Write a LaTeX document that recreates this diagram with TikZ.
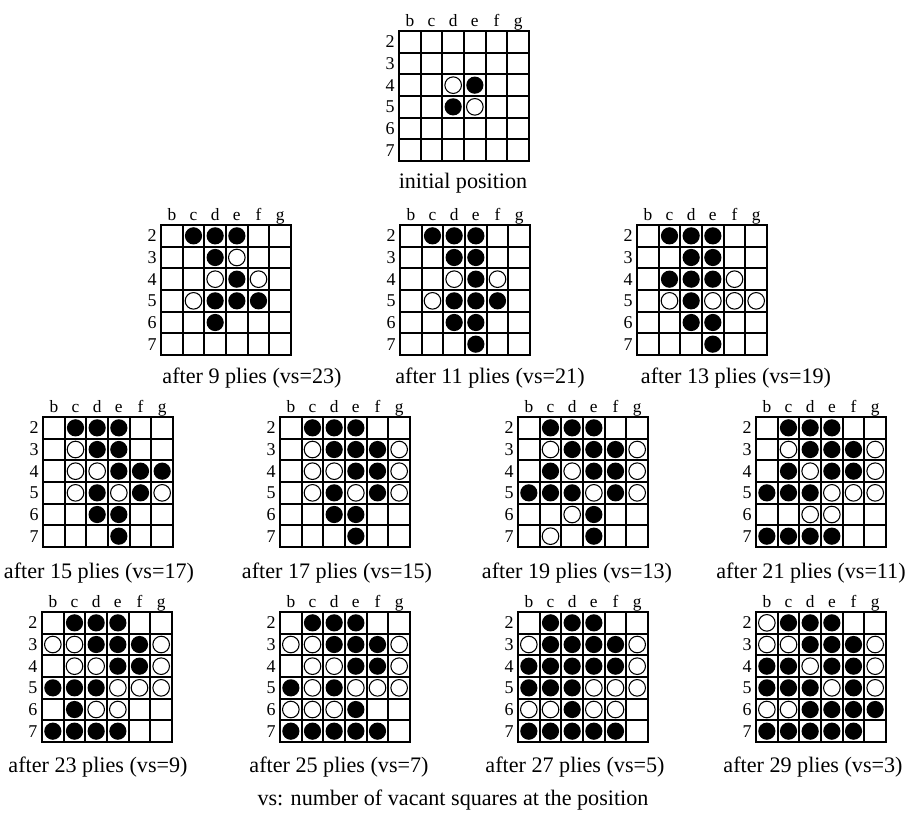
\documentclass[tikz,border=0pt]{standalone}
\usepackage{fontspec}
\setmainfont{Liberation Serif}
\usetikzlibrary{positioning}
\tikzset{
  gridline/.style={line width=1.6pt, line cap=rect},
  blackstone/.style={fill=black},
  whitestone/.style={draw=black, line width=0.8pt, fill=white},
  collabel/.style={font=\fontsize{13}{15}\selectfont, inner sep=0pt, anchor=base},
  rowlabel/.style={font=\fontsize{13.5}{15}\selectfont, inner sep=0pt},
  caption/.style={font=\fontsize{16.6}{20}\selectfont, inner sep=0pt}
}
\newcommand{\cellsz}{21.667}
% #1 id, #2 left, #3 top, #4 black stones, #5 white stones
\newcommand{\othboard}[5]{%
  \begin{scope}[shift={(#2,#3)}]
    \foreach \c [count=\i] in {b,c,d,e,f,g} {
      \node[collabel] (#1-\c) at ({(\i-0.5)*\cellsz},-5) {\c};
      \foreach \r [count=\j] in {2,...,7}
        \coordinate (\c\r) at ({(\i-0.5)*\cellsz},{(\j-0.5)*\cellsz});
    }
    \foreach \r [count=\j] in {2,...,7}
      \node[rowlabel] (#1-\r) at (-9,{(\j-0.5)*\cellsz}) {\r};
    \foreach \k in {0,...,6} {
      \draw[gridline] ({\k*\cellsz},0) -- ({\k*\cellsz},{6*\cellsz});
      \draw[gridline] (0,{\k*\cellsz}) -- ({6*\cellsz},{\k*\cellsz});
    }
    \foreach \s in {#4}
      \fill[blackstone] (\s) circle[radius=8.6];
    \foreach \s in {#5}
      \draw[whitestone] (\s) circle[radius=8.3];
  \end{scope}}

\begin{document}
\begin{tikzpicture}[x=0.75pt, y=-0.75pt]
  \useasboundingbox (0,0) rectangle (906,815);

  % initial position
  \othboard{b0}{399}{31}{e4,d5}{d4,e5}
  \node[caption] (cap0) at (463,183) {initial position};

  % second row
  \othboard{b9}{161}{225}{c2,d2,e2,d3,e4,d5,e5,f5,d6}{e3,d4,f4,c5}
  \othboard{b11}{400}{225}{c2,d2,e2,d3,e3,e4,d5,e5,f5,d6,e6,e7}{d4,f4,c5}
  \othboard{b13}{637}{225}{c2,d2,e2,d3,e3,c4,d4,e4,d5,d6,e6,e7}{f4,c5,e5,f5,g5}
  \node[caption] (cap9) at (252,378) {after 9 plies (vs=23)};
  \node[caption] (cap11) at (490,378) {after 11 plies (vs=21)};
  \node[caption] (cap13) at (736,378) {after 13 plies (vs=19)};

  % third row
  \othboard{b15}{43}{417}{c2,d2,e2,d3,e3,e4,f4,g4,d5,f5,d6,e6,e7}{c3,c4,d4,c5,e5,g5}
  \othboard{b17}{280}{417}{c2,d2,e2,d3,e3,f3,e4,f4,d5,f5,d6,e6,e7}{c3,g3,c4,d4,g4,c5,e5,g5}
  \othboard{b19}{518}{417}{c2,d2,e2,d3,e3,f3,c4,e4,f4,b5,c5,d5,f5,e6,e7}{c3,g3,d4,g4,e5,g5,d6,c7}
  \othboard{b21}{756}{417}{c2,d2,e2,d3,e3,f3,c4,e4,f4,b5,c5,d5,b7,c7,d7,e7}{c3,g3,d4,g4,e5,f5,g5,d6,e6}
  \node[caption] (cap15) at (99,573) {after 15 plies (vs=17)};
  \node[caption] (cap17) at (337,573) {after 17 plies (vs=15)};
  \node[caption] (cap19) at (577,573) {after 19 plies (vs=13)};
  \node[caption] (cap21) at (811,573) {after 21 plies (vs=11)};

  % fourth row
  \othboard{b23}{42}{612}{c2,d2,e2,d3,e3,f3,e4,f4,b5,c5,d5,c6,b7,c7,d7,e7}{b3,c3,g3,c4,d4,g4,e5,f5,g5,d6,e6}
  \othboard{b25}{280}{612}{c2,d2,e2,d3,e3,f3,e4,f4,b5,d5,e6,b7,c7,d7,e7,f7}{b3,c3,g3,c4,d4,g4,c5,e5,f5,g5,b6,c6,d6}
  \othboard{b27}{518}{612}{c2,d2,e2,c3,d3,e3,f3,b4,c4,d4,e4,f4,b5,c5,d5,d6,b7,c7,d7,e7,f7}{b3,g3,g4,e5,f5,g5,b6,c6,e6,f6}
  \othboard{b29}{756}{612}{c2,d2,e2,d3,e3,f3,b4,c4,e4,f4,b5,c5,d5,f5,d6,e6,f6,g6,b7,c7,d7,e7,f7}{b2,b3,c3,g3,d4,g4,e5,g5,b6,c6}
  \node[caption] (cap23) at (98,767) {after 23 plies (vs=9)};
  \node[caption] (cap25) at (339,767) {after 25 plies (vs=7)};
  \node[caption] (cap27) at (575,767) {after 27 plies (vs=5)};
  \node[caption] (cap29) at (813,767) {after 29 plies (vs=3)};

  \node[caption] (note) at (453,800) {vs: number of vacant squares at the position};
\end{tikzpicture}
\end{document}
